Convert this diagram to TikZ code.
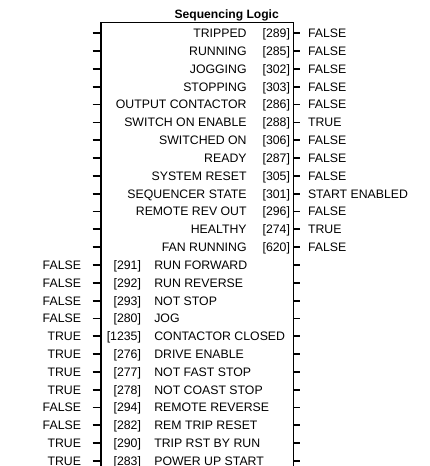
\documentclass[tikz,border=0pt]{standalone}
\usepackage{fontspec}
\setmainfont{Liberation Sans}
\tikzset{
  lbl/.style={inner sep=0pt, outer sep=0pt, font=\fontsize{12.3}{14}\selectfont},
  ttl/.style={inner sep=0pt, outer sep=0pt, font=\bfseries\fontsize{12.1}{14}\selectfont},
  boxline/.style={line width=1.2pt},
  stub/.style={line width=1.8pt}
}
\begin{document}
\begin{tikzpicture}[x=1pt,y=-1pt]
\useasboundingbox (0,0) rectangle (430,466);
\node[ttl, anchor=base] (title) at (226.7,18.7) {Sequencing Logic};
\coordinate (bl) at (101,466);
\coordinate (tl) at (101,22.3);
\coordinate (tr) at (293.3,22.3);
\coordinate (br) at (293.3,466);
\draw[boxline] (bl) -- (tl) -- (tr) -- (br);
% stubs on every row
\foreach \i in {0,...,24}{
  \pgfmathsetmacro{\yy}{33.3+17.82*\i}
  \coordinate (la\i) at (92.5,\yy);
  \coordinate (lb\i) at (99.5,\yy);
  \coordinate (ra\i) at (293.3,\yy);
  \coordinate (rb\i) at (299.5,\yy);
  \draw[stub] (la\i) -- (lb\i);
  \draw[stub] (ra\i) -- (rb\i);
}
% outputs
\foreach \n/\p/\v [count=\i from 0] in {
  TRIPPED/289/FALSE, RUNNING/285/FALSE, JOGGING/302/FALSE, STOPPING/303/FALSE,
  OUTPUT CONTACTOR/286/FALSE, SWITCH ON ENABLE/288/TRUE, SWITCHED ON/306/FALSE,
  READY/287/FALSE, SYSTEM RESET/305/FALSE, SEQUENCER STATE/301/START ENABLED,
  REMOTE REV OUT/296/FALSE, HEALTHY/274/TRUE, FAN RUNNING/620/FALSE}{
  \pgfmathsetmacro{\yb}{33.3+17.82*\i+4.4}
  \node[lbl, anchor=base east] (on\i) at (246.6,\yb) {\n};
  \node[lbl, anchor=base east] (op\i) at (290,\yb) {[\p]};
  \node[lbl, anchor=base west] (ov\i) at (308,\yb) {\v};
}
% inputs
\foreach \v/\p/\n [count=\j from 13] in {
  FALSE/291/RUN FORWARD, FALSE/292/RUN REVERSE, FALSE/293/NOT STOP, FALSE/280/JOG,
  TRUE/1235/CONTACTOR CLOSED, TRUE/276/DRIVE ENABLE, TRUE/277/NOT FAST STOP,
  TRUE/278/NOT COAST STOP, FALSE/294/REMOTE REVERSE, FALSE/282/REM TRIP RESET,
  TRUE/290/TRIP RST BY RUN, TRUE/283/POWER UP START}{
  \pgfmathsetmacro{\yb}{33.3+17.82*\j+4.4}
  \node[lbl, anchor=base east] (iv\j) at (81,\yb) {\v};
  \node[lbl, anchor=base east] (ip\j) at (141,\yb) {[\p]};
  \node[lbl, anchor=base west] (in\j) at (154.3,\yb) {\n};
}
\end{tikzpicture}
\end{document}
